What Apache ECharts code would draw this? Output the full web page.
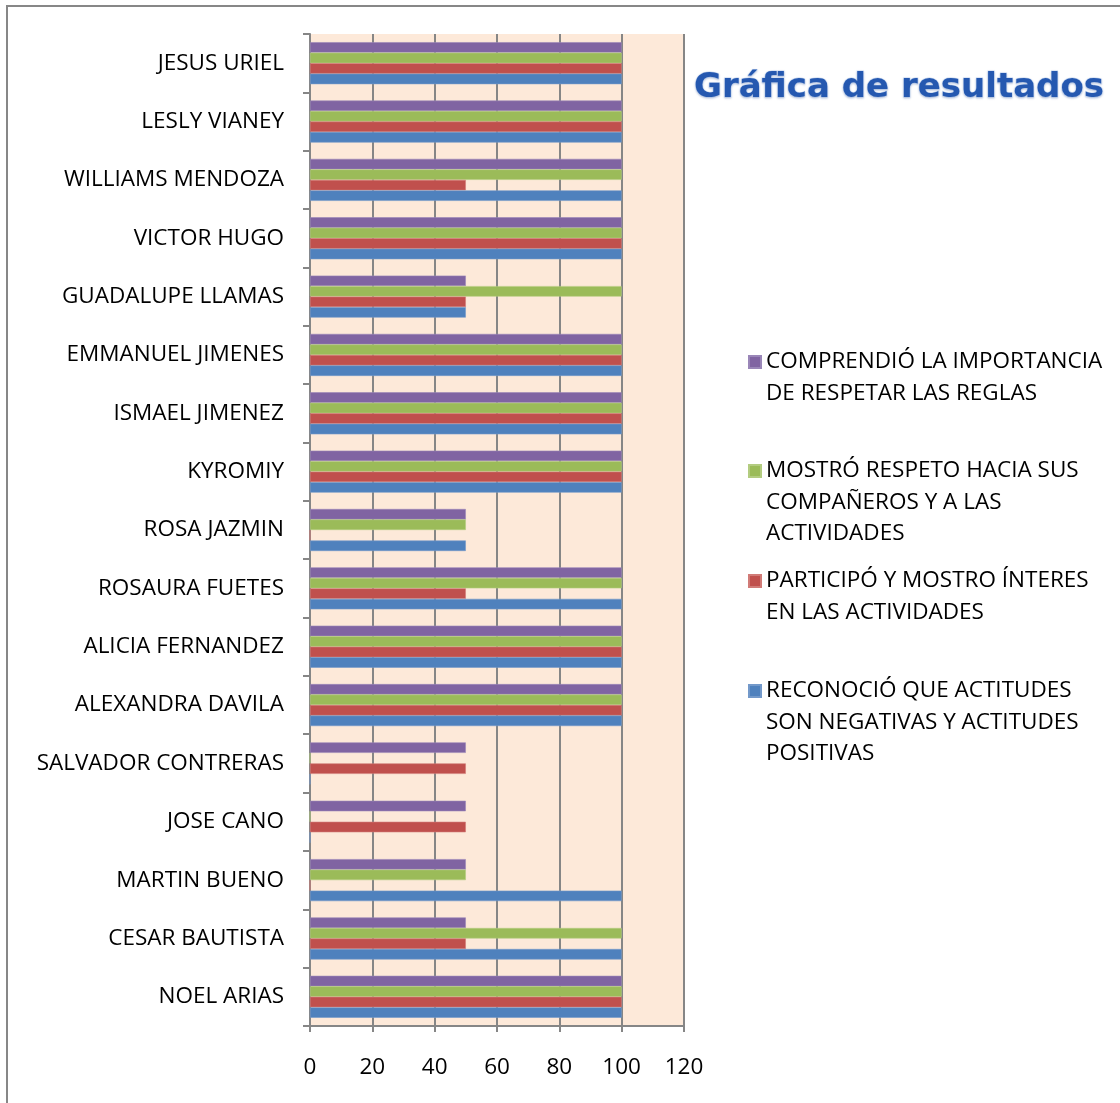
<!DOCTYPE html>
<html>
<head>
<meta charset="utf-8">
<script src="https://cdn.jsdelivr.net/npm/echarts@6/dist/echarts.min.js"></script>
<style>
html,body{margin:0;padding:0;background:#fff;}
#chart{width:1120px;height:1103px;}
</style>
</head>
<body>
<div id="chart"></div>
<script>
// Categories, bottom to top
var categories = [
  'NOEL ARIAS', 'CESAR BAUTISTA', 'MARTIN BUENO', 'JOSE CANO', 'SALVADOR CONTRERAS',
  'ALEXANDRA DAVILA', 'ALICIA FERNANDEZ', 'ROSAURA FUETES', 'ROSA JAZMIN', 'KYROMIY',
  'ISMAEL JIMENEZ', 'EMMANUEL JIMENES', 'GUADALUPE LLAMAS', 'VICTOR HUGO',
  'WILLIAMS MENDOZA', 'LESLY VIANEY', 'JESUS URIEL'
];
// series in drawing order (top bar of each group first)
var seriesNames = [
  'COMPRENDIÓ LA IMPORTANCIA DE RESPETAR LAS REGLAS',
  'MOSTRÓ RESPETO HACIA SUS COMPAÑEROS Y A LAS ACTIVIDADES',
  'PARTICIPÓ Y MOSTRO ÍNTERES EN LAS ACTIVIDADES',
  'RECONOCIÓ QUE ACTITUDES SON NEGATIVAS Y ACTITUDES POSITIVAS'
];
var legendLines = [
  ['COMPRENDIÓ LA IMPORTANCIA', 'DE RESPETAR LAS REGLAS'],
  ['MOSTRÓ RESPETO HACIA SUS', 'COMPAÑEROS Y A LAS', 'ACTIVIDADES'],
  ['PARTICIPÓ Y MOSTRO ÍNTERES', 'EN LAS ACTIVIDADES'],
  ['RECONOCIÓ QUE ACTITUDES', 'SON NEGATIVAS Y ACTITUDES', 'POSITIVAS']
];
var comprendio  = [100, 50, 50, 50, 50, 100, 100, 100, 50, 100, 100, 100, 50, 100, 100, 100, 100];
var mostro      = [100, 100, 50, 0, 0, 100, 100, 100, 50, 100, 100, 100, 100, 100, 100, 100, 100];
var participo   = [100, 50, 0, 50, 50, 100, 100, 50, 0, 100, 100, 100, 50, 100, 50, 100, 100];
var reconocio   = [100, 100, 100, 0, 0, 100, 100, 100, 50, 100, 100, 100, 50, 100, 100, 100, 100];
var xTicks = [0, 20, 40, 60, 80, 100, 120];

var colors = ['#8064A2', '#9BBB59', '#C0504D', '#4F81BD'];
var borders = ['#9A86B8', '#B3CC80', '#D17B77', '#7399CA'];
var values = [comprendio, mostro, participo, reconocio];
var FONT = '"Open Sans", sans-serif';

var chart = echarts.init(document.getElementById('chart'));

var series = seriesNames.map(function (n, i) {
  return {
    name: n,
    type: 'bar',
    data: values[i],
    barGap: '0%',
    barCategoryGap: '28%',
    itemStyle: { color: colors[i], borderColor: borders[i], borderWidth: 0.6 },
    emphasis: { disabled: true },
    animation: false
  };
});

// legends: icon aligned with first text line
var legendFirstLine = [362, 471, 581, 691];
var lineH = 31.5;
var legends = seriesNames.map(function (n, i) {
  var lines = legendLines[i];
  var pad = lines.length - 1;
  var total = lines.length + pad;
  return {
    data: [n],
    orient: 'vertical',
    left: 748,
    top: legendFirstLine[i] - total * lineH / 2,
    padding: 0,
    itemWidth: 12,
    itemHeight: 12,
    itemGap: 6,
    icon: 'rect',
    selectedMode: false,
    formatter: function () {
      var arr = [];
      for (var k = 0; k < pad; k++) arr.push(' ');
      return arr.concat(lines).join('\n');
    },
    textStyle: { fontFamily: FONT, fontSize: 22.5, color: '#000', lineHeight: lineH }
  };
});

chart.setOption({
  backgroundColor: '#ffffff',
  animation: false,
  legend: legends,
  title: {
    text: 'Gráfica de resultados',
    left: 694,
    top: 71,
    padding: 0,
    textStyle: {
      fontFamily: '"DejaVu Sans", sans-serif',
      fontWeight: 'bold',
      fontSize: 34,
      color: '#2558B0',
      textBorderColor: '#C9DAF2',
      textBorderWidth: 1,
      textShadowColor: 'rgba(30,70,150,0.25)',
      textShadowBlur: 2,
      textShadowOffsetY: 1
    }
  },
  grid: {
    left: 310,
    right: 436,
    top: 34,
    bottom: 77,
    show: true,
    backgroundColor: '#FDE9D9',
    borderWidth: 0
  },
  xAxis: {
    type: 'value',
    min: 0,
    max: 120,
    interval: 20,
    axisLine: { show: true, lineStyle: { color: '#868686', width: 2 } },
    axisTick: { show: true, length: 6, lineStyle: { color: '#868686', width: 2 } },
    splitLine: { show: true, lineStyle: { color: '#868686', width: 2 } },
    axisLabel: {
      margin: 30,
      fontFamily: FONT,
      fontSize: 22.5,
      color: '#000',
      formatter: function (v) { return xTicks.indexOf(v) >= 0 ? String(v) : ''; }
    }
  },
  yAxis: {
    type: 'category',
    data: categories,
    axisLine: { show: true, lineStyle: { color: '#868686', width: 2 } },
    axisTick: { show: true, length: 7, lineStyle: { color: '#868686', width: 2 } },
    axisLabel: { margin: 26, fontFamily: FONT, fontSize: 22.5, color: '#000' }
  },
  graphic: [{
    type: 'rect',
    shape: { x: 7, y: 6, width: 1200, height: 1200 },
    style: { fill: 'none', stroke: '#878787', lineWidth: 2 },
    silent: true,
    z: 100
  }],
  series: series
});
</script>
</body>
</html>
